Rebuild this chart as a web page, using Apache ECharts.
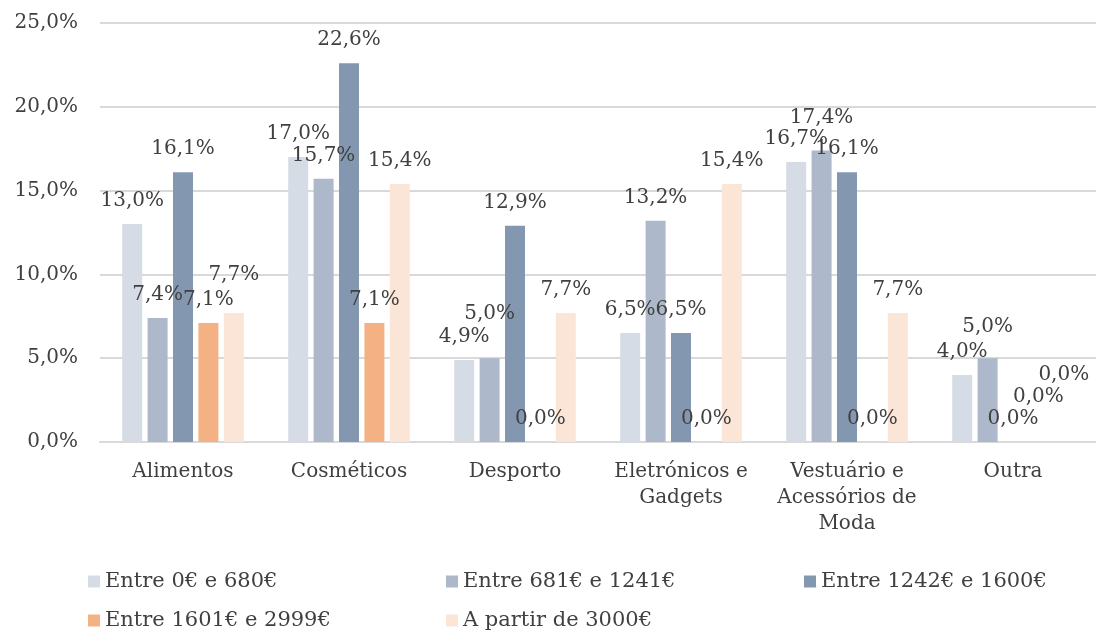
<!DOCTYPE html>
<html>
<head>
<meta charset="utf-8">
<script src="https://cdn.jsdelivr.net/npm/echarts@6/dist/echarts.min.js"></script>
<style>
  html, body { margin: 0; padding: 0; background: #fff; }
  #chart { width: 1096px; height: 631px; }
</style>
</head>
<body>
<div id="chart"></div>
<script>
// categorias e séries
const categories = ['Alimentos', 'Cosméticos', 'Desporto', 'Eletrónicos e\nGadgets', 'Vestuário e\nAcessórios de\nModa', 'Outra'];
const seriesNames = ['Entre 0€ e 680€', 'Entre 681€ e 1241€', 'Entre 1242€ e 1600€', 'Entre 1601€ e 2999€', 'A partir de 3000€'];
const faixa1 = [13.0, 17.0, 4.9, 6.5, 16.7, 4.0];
const faixa2 = [7.4, 15.7, 5.0, 13.2, 17.4, 5.0];
const faixa3 = [16.1, 22.6, 12.9, 6.5, 16.1, 0.0];
const faixa4 = [7.1, 7.1, 0.0, 0.0, 0.0, 0.0];
const faixa5 = [7.7, 15.4, 7.7, 15.4, 7.7, 0.0];
const yTicks = [0, 5, 10, 15, 20, 25];

const colors = ['#d6dce5', '#adb9ca', '#8497b0', '#f4b183', '#fbe5d6'];
const font = 'DejaVu Serif';
const textColor = '#404040';

// etiquetas deslocadas como no original: [serie, categoria, dx, dy]
const labelNudge = [
  [4, 0, 0, -15],
  [1, 2, 0, -21],
  [1, 4, 0, -10],
  [1, 5, 0, -8],
  [3, 5, 0, -22],
  [4, 5, 0, -44]
];

const fmt = v => v.toFixed(1).replace('.', ',') + '%';

const chart = echarts.init(document.getElementById('chart'));

const allData = [faixa1, faixa2, faixa3, faixa4, faixa5];
const series = allData.map((vals, s) => ({
  name: seriesNames[s],
  type: 'bar',
  barWidth: 20,
  barGap: '27%',
  itemStyle: { color: colors[s] },
  label: {
    show: true,
    position: 'top',
    distance: 13,
    formatter: p => fmt(p.value),
    color: textColor,
    fontFamily: font,
    fontSize: 20
  },
  data: vals.map((v, c) => {
    const n = labelNudge.find(x => x[0] === s && x[1] === c);
    if (!n) return v;
    return { value: v, label: { offset: [n[2], n[3]] } };
  })
}));

// legenda em grelha (3 colunas)
const legendPos = [[88, 571], [446, 571], [804, 571], [88, 610], [446, 610]];

chart.setOption({
  backgroundColor: '#fff',
  animation: false,
  grid: { left: 100, right: 0, top: 23, bottom: 189 },
  legend: seriesNames.map((n, i) => ({
    data: [n],
    left: legendPos[i][0],
    top: legendPos[i][1],
    padding: 0,
    icon: 'rect',
    itemWidth: 12,
    itemHeight: 12,
    textStyle: { color: textColor, fontFamily: font, fontSize: 21 }
  })),
  xAxis: {
    type: 'category',
    data: categories,
    axisLine: { lineStyle: { color: '#d9d9d9', width: 2 } },
    axisTick: { show: false },
    axisLabel: {
      color: textColor,
      fontFamily: font,
      fontSize: 20,
      lineHeight: 26,
      margin: 17,
      interval: 0
    }
  },
  yAxis: {
    type: 'value',
    min: yTicks[0],
    max: yTicks[yTicks.length - 1],
    interval: 5,
    axisLine: { show: false },
    axisTick: { show: false },
    splitLine: { lineStyle: { color: '#d9d9d9', width: 2 } },
    axisLabel: {
      formatter: v => fmt(v),
      color: textColor,
      fontFamily: font,
      fontSize: 20,
      margin: 22
    }
  },
  series: series
});
</script>
</body>
</html>
